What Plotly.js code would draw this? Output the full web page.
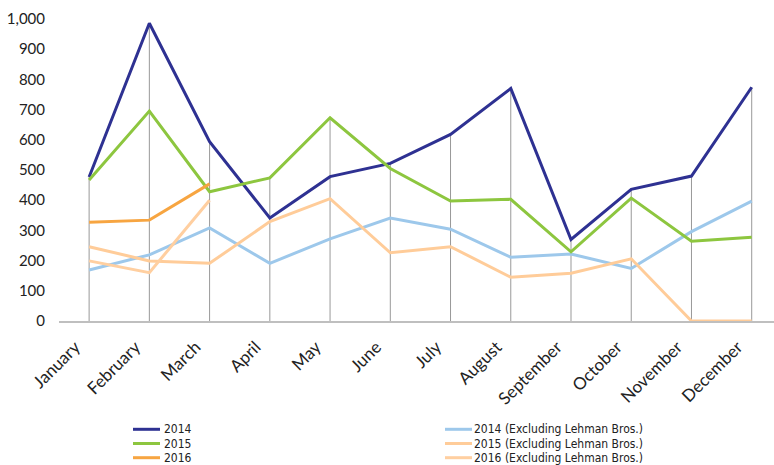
<!DOCTYPE html>
<html><head><meta charset="utf-8">
<script src="https://cdn.plot.ly/plotly-3.0.1.min.js"></script>
<style>html,body{margin:0;padding:0;background:#fff}#chart{width:774px;height:465px}</style>
</head><body><div id="chart"></div>
<script>
const months = ["January","February","March","April","May","June","July","August","September","October","November","December"];
const s2014 = [477,986,594,341,478,522,618,770,270,436,480,774];
const s2015 = [467,695,428,474,673,505,397,403,229,407,264,277];
const s2016 = [327,334,454];
const s2014ex = [169,219,308,191,272,341,304,211,222,174,296,397];
const s2015ex = [246,199,191,329,405,226,246,145,158,206,0,0];
const s2016ex = [199,160,400];
const names = ["2014","2015","2016","2014 (Excluding Lehman Bros.)","2015 (Excluding Lehman Bros.)","2016 (Excluding Lehman Bros.)"];
const values = [s2014,s2015,s2016,s2014ex,s2015ex,s2016ex];
const colors = ["#2E3192","#8DC63F","#F7A541","#9DC8EB","#FFCC99","#FFCFA0"];
const yTicks = [0,100,200,300,400,500,600,700,800,900,1000];

// drop lines from highest value in each month down to zero
const dx = [], dy = [];
months.forEach((m,i)=>{
  const mx = Math.max(...values.map(v => v[i] !== undefined ? v[i] : -Infinity));
  dx.push(m,m,null); dy.push(0,mx,null);
});
const traces = [{x:dx,y:dy,mode:'lines',line:{color:'#999999',width:1},hoverinfo:'skip',showlegend:false}];
const order = [3,4,5,0,1,2];
order.forEach(k=>{
  traces.push({x:months.slice(0,values[k].length),y:values[k],name:names[k],mode:'lines',
    line:{color:colors[k],width:3},showlegend:false});
});

// manual legend (pixel layout converted to paper coordinates)
const L = 59, W = 715, B = 321, H = 302;
const px = x => (x-L)/W, py = y => (B-y)/H;
const shapes = [], annotations = [];
const rowsY = [429.3,443.5,457.7];
const cols = [{x0:133,x1:160,tx:163},{x0:445,x1:472,tx:473}];
names.forEach((n,k)=>{
  const c = cols[Math.floor(k/3)], y = rowsY[k%3];
  shapes.push({type:'line',xref:'paper',yref:'paper',x0:px(c.x0),x1:px(c.x1),y0:py(y),y1:py(y),line:{color:colors[k],width:3}});
  annotations.push({xref:'paper',yref:'paper',x:px(c.tx),y:py(y),xanchor:'left',yanchor:'middle',showarrow:false,text:n,
    borderpad:0,font:{family:'DejaVu Sans Condensed, sans-serif',size:12,color:'#222'}});
});

const layout = {
  width:774,height:465,margin:{l:59,r:0,t:19,b:144},
  paper_bgcolor:'#fff',plot_bgcolor:'#fff',showlegend:false,
  font:{family:'Lato, sans-serif',size:15,color:'#222'},
  xaxis:{type:'category',range:[-0.5,11.37],showgrid:false,zeroline:false,showline:true,linecolor:'#bfbfbf',linewidth:1.5,
    ticks:'',tickangle:-45,tickfont:{size:17},ticklabelstandoff:8,ticklabelshift:-14},
  yaxis:{range:[0,1000],tickvals:yTicks,tickformat:',d',showgrid:false,zeroline:false,showline:false,ticks:'',
    ticklabelstandoff:13,tickfont:{size:15}},
  shapes:shapes,annotations:annotations
};
Plotly.newPlot('chart',traces,layout,{displayModeBar:false,staticPlot:true});
</script></body></html>
